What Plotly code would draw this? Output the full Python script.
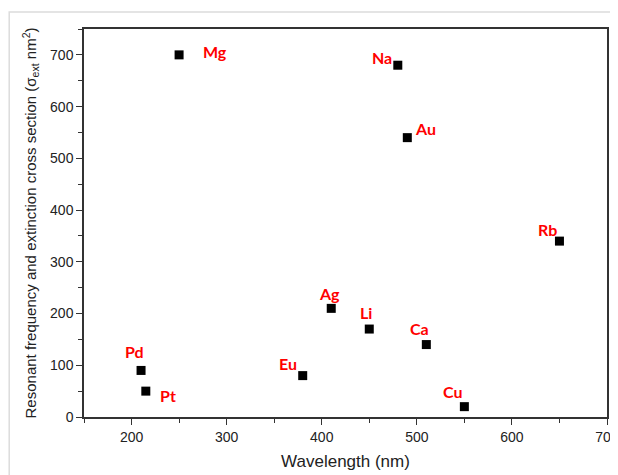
import plotly.graph_objects as go

elements = ["Mg", "Na", "Au", "Rb", "Ag", "Li", "Ca", "Pd", "Pt", "Eu", "Cu"]
wavelength = [250, 480, 490, 650, 410, 450, 510, 210, 215, 380, 550]
cross_section = [700, 680, 540, 340, 210, 170, 140, 90, 50, 80, 20]

x_ticks = [200, 300, 400, 500, 600, 700]
y_ticks = [0, 100, 200, 300, 400, 500, 600, 700]

# label offsets in pixels (dx right, dy up)
label_offsets = {
    "Mg": (36, 3), "Na": (-16, 8), "Au": (18, 9), "Rb": (-12, 12),
    "Ag": (-2, 15), "Li": (-3, 17), "Ca": (-7, 16), "Pd": (-7, 19),
    "Pt": (22, -4), "Eu": (-15, 12), "Cu": (-11, 15),
}

fig = go.Figure()
fig.add_trace(go.Scatter(
    x=wavelength, y=cross_section, mode="markers",
    marker=dict(symbol="square", size=9, color="black"),
    showlegend=False, hoverinfo="x+y",
))

for el, xv, yv in zip(elements, wavelength, cross_section):
    dx, dy = label_offsets[el]
    fig.add_annotation(
        x=xv, y=yv, text=f"<b>{el}</b>", showarrow=False,
        xshift=dx, yshift=dy,
        font=dict(family="Lato, Open Sans, sans-serif", size=16, color="#ff0000"),
    )

# outer faint frame of the original screenshot
fig.add_shape(type="rect", xref="paper", yref="paper",
              x0=-0.143, x1=1.05, y0=-0.2, y1=1.044,
              line=dict(color="#dcdcdc", width=1.5), layer="below")

axis_common = dict(
    showline=True, linecolor="#333333", linewidth=1.5, mirror=True,
    showgrid=False, zeroline=False, ticks="outside", ticklen=6, tickwidth=1,
    tickcolor="#333333", automargin=False, ticklabeloverflow="allow",
    tickfont=dict(family="Liberation Sans, Arial, sans-serif", size=14, color="#222222"),
)

fig.update_xaxes(
    range=[150, 700], tickvals=x_ticks,
    minor=dict(dtick=50, ticks="outside", ticklen=4, tickcolor="#333333", tick0=150),
    title=dict(text="Wavelength (nm)",
               font=dict(family="Liberation Sans, Arial, sans-serif", size=17, color="#222222"),
               standoff=12),
    **axis_common,
)
fig.update_yaxes(
    range=[0, 750], tickvals=y_ticks,
    minor=dict(dtick=50, ticks="outside", ticklen=4, tickcolor="#333333", tick0=0),
    title=dict(text="Resonant frequency and extinction cross section (σ<sub>ext</sub> nm<sup>2</sup>)",
               font=dict(family="Liberation Sans, Arial, sans-serif", size=15, color="#222222"),
               standoff=10),
    **axis_common,
)

# page body has an 8px margin, so the figure is sized to fit the 618x475 window
fig.update_layout(
    width=610, height=467,
    margin=dict(l=76, r=11, t=21, b=58),
    paper_bgcolor="white", plot_bgcolor="white",
)

fig.write_html("out.html")
